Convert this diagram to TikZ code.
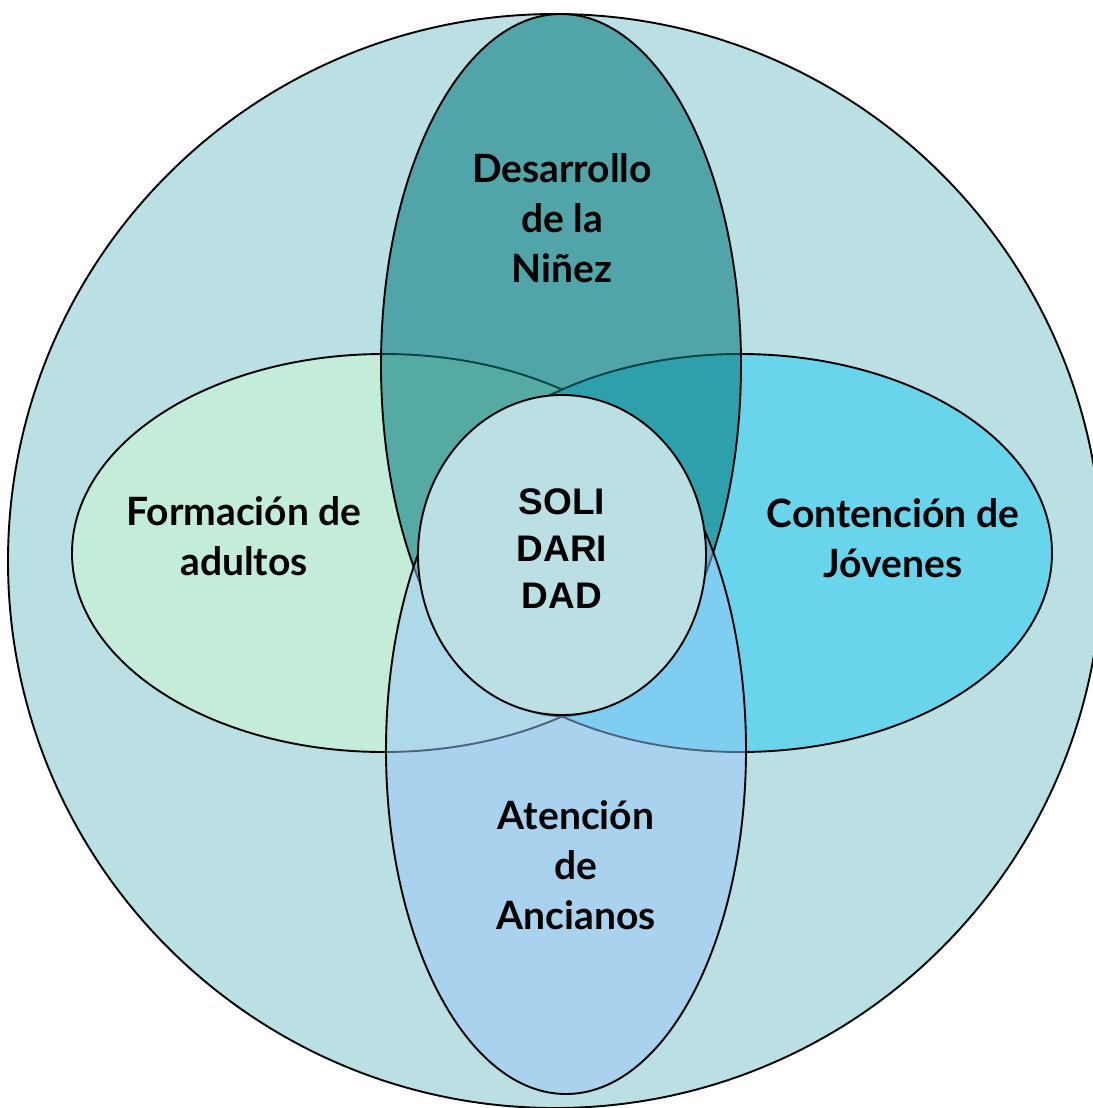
\documentclass[tikz,border=0pt]{standalone}
\usepackage{fontspec}
\setmainfont{Lato}
\newfontfamily\arialfont{Liberation Sans}
\usepackage{tikz}

\definecolor{fondo}{HTML}{BAE0E3}
\definecolor{ninez}{HTML}{00787A}
\definecolor{adultos}{HTML}{C3EDD9}
\definecolor{jovenes}{HTML}{69D5EC}
\definecolor{ancianos}{HTML}{98C6F9}

\begin{document}
\begin{tikzpicture}[x=1pt,y=-1pt,
	ring/.style={draw=black,line width=1.9pt},
	txt/.style={font=\bfseries\fontsize{39}{50}\selectfont,align=center,anchor=base},
	]
	\useasboundingbox (0,0) rectangle (1092,1108);

	% circulo de fondo
	\filldraw[ring,fill=fondo] (555,561) circle (547);

	% elipses horizontales
	\filldraw[ring,fill=adultos] (384,553) ellipse [x radius=312,y radius=199];
	\filldraw[ring,fill=jovenes] (740,553) ellipse [x radius=312,y radius=199];

	% elipses verticales
	\filldraw[ring,fill=ninez,fill opacity=0.56] (561,365) ellipse [x radius=180,y radius=351];
	\filldraw[ring,fill=ancianos,fill opacity=0.5] (566,750) ellipse [x radius=180,y radius=344];

	% centro
	\filldraw[ring,fill=fondo] (562,555) ellipse [x radius=144,y radius=160];

	% la base es la ultima linea
	\node[txt] (ninez) at (562,282) {Desarrollo\\de la\\Niñez};
	\node[txt] (formacion) at (244,575) {Formación de\\adultos};
	\node[txt] (contencion) at (893,577) {Contención de\\Jóvenes};
	\node[txt] (ancianos) at (576,929) {Atención\\de\\Ancianos};
	\node[txt,font={\arialfont\bfseries\fontsize{37}{47}\selectfont}] (solidaridad) at (562,608) {SOLI\\DARI\\DAD};
\end{tikzpicture}
\end{document}
